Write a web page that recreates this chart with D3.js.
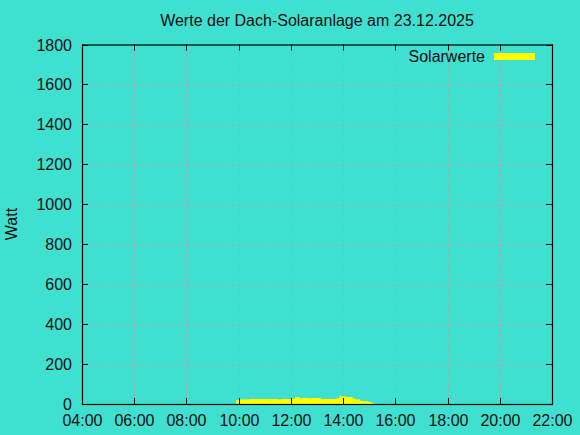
<!DOCTYPE html>
<html><head><meta charset="utf-8">
<script src="https://cdn.jsdelivr.net/npm/d3@7"></script>
<style>
html,body{margin:0;padding:0;background:#40e0d0;}
svg{display:block;font-family:"Liberation Sans",Arial,sans-serif;}
</style></head>
<body>
<svg id="chart" width="580" height="435"></svg>
<script>
const title = "Werte der Dach-Solaranlage am 23.12.2025";
const yLabel = "Watt";
const seriesName = "Solarwerte";
const times = ["09:54","10:01","10:24","11:31","11:37","12:02","12:10","12:21","12:25","12:42","12:46","13:09","13:45","13:52","14:01","14:08","14:22","14:29","14:40","14:58","15:05","15:11"];
const watts = [20,22,25,22,25,28,35,28,30,27,30,25,30,40,37,35,28,23,15,10,5,0];
const xTickLabels = ["04:00","06:00","08:00","10:00","12:00","14:00","16:00","18:00","20:00","22:00"];
const yTicks = [0,200,400,600,800,1000,1200,1400,1600,1800];

const svg = d3.select("#chart");
const L = 82, R = 552, T = 44.5, B = 404;
const parse = s => { const [h,m] = s.split(":").map(Number); return h + m/60; };
const x = d3.scaleLinear().domain([4,22]).range([L,R]);
const y = d3.scaleLinear().domain([0,1800]).range([B,T]);

// grid
const g = svg.append("g");
xTickLabels.forEach(t => {
  const v = parse(t);
  if (v > 4 && v < 22) g.append("line").attr("x1",Math.round(x(v))+0.5).attr("x2",Math.round(x(v))+0.5).attr("y1",T).attr("y2",B)
    .attr("stroke","#b4a0a8").attr("stroke-width",1).attr("stroke-dasharray","2,3");
});
yTicks.forEach(v => {
  if (v > 0 && v < 1800) g.append("line").attr("x1",L).attr("x2",R).attr("y1",Math.round(y(v))+0.5).attr("y2",Math.round(y(v))+0.5)
    .attr("stroke","#b4a0a8").attr("stroke-width",1).attr("stroke-dasharray","2,3");
});

// data
const data = times.map((t,i) => ({t: parse(t), v: watts[i]}));
const area = d3.area().curve(d3.curveStepAfter).x(d => x(d.t)).y0(y(0)).y1(d => y(d.v));
svg.append("path").datum(data).attr("d", area).attr("fill","#ffff00");

// axes with inward ticks and mirrored
const ax = svg.append("g");
ax.append("rect").attr("x",L+0.5).attr("y",T+0.5).attr("width",R-L).attr("height",B-T)
  .attr("fill","none").attr("stroke","#000").attr("stroke-width",1.2);
xTickLabels.forEach(t => {
  const xv = Math.round(x(parse(t)))+0.5;
  ax.append("line").attr("x1",xv).attr("x2",xv).attr("y1",B).attr("y2",B-6).attr("stroke","#000");
  ax.append("line").attr("x1",xv).attr("x2",xv).attr("y1",T).attr("y2",T+6).attr("stroke","#000");
  ax.append("text").attr("x",xv).attr("y",426).attr("text-anchor","middle").attr("font-size",16).attr("fill","#111").text(t);
});
yTicks.forEach(v => {
  const yv = Math.round(y(v))+0.5;
  ax.append("line").attr("x1",L).attr("x2",L+6).attr("y1",yv).attr("y2",yv).attr("stroke","#000");
  ax.append("line").attr("x1",R-6).attr("x2",R).attr("y1",yv).attr("y2",yv).attr("stroke","#000");
  ax.append("text").attr("x",72).attr("y",yv+5.5).attr("text-anchor","end").attr("font-size",16).attr("fill","#111").text(v);
});

// title
svg.append("text").attr("x",317).attr("y",26).attr("text-anchor","middle").attr("font-size",16).attr("fill","#111").text(title);
// y label
svg.append("text").attr("transform","translate(17,224) rotate(-90)").attr("text-anchor","middle").attr("font-size",16).attr("fill","#111").text(yLabel);
// legend
svg.append("text").attr("x",485).attr("y",62).attr("text-anchor","end").attr("font-size",16).attr("fill","#111").text(seriesName);
svg.append("rect").attr("x",494).attr("y",53).attr("width",41).attr("height",7).attr("fill","#ffff00");
</script>
</body></html>
